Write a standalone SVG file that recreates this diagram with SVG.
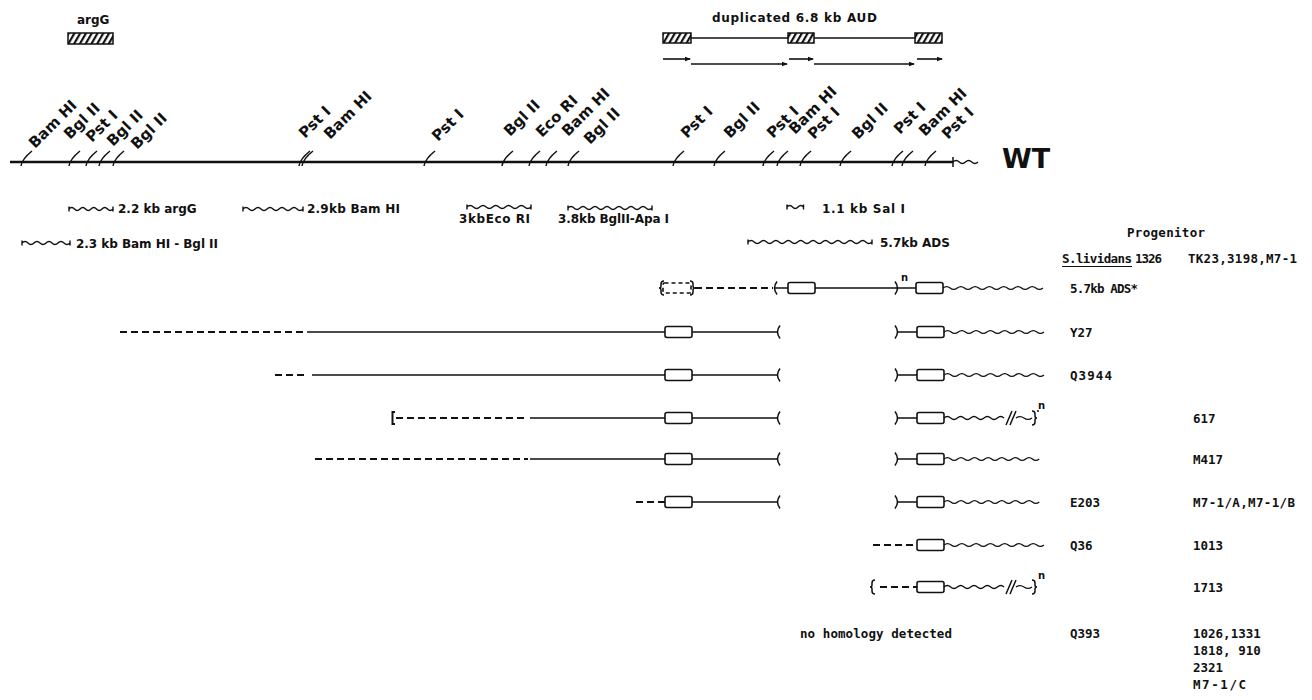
<svg xmlns="http://www.w3.org/2000/svg" width="1312" height="700" viewBox="0 0 1312 700">
<style>
  .site{font-family:"DejaVu Sans",sans-serif;font-weight:bold;font-size:15px;fill:#111}
  .lbl{font-family:"DejaVu Sans",sans-serif;font-weight:bold;font-size:12px;fill:#111}
  .mono{font-family:"DejaVu Sans Mono",monospace;font-weight:bold;font-size:12.5px;fill:#111}
  .sup{font-family:"DejaVu Sans",sans-serif;font-weight:bold;font-size:10px;fill:#111}
  .ln{fill:none;stroke:#111;stroke-width:1.6}
  .map{fill:none;stroke:#111;stroke-width:2.4}
  .dash{fill:none;stroke:#111;stroke-width:2;stroke-dasharray:7 4}
  .wave{fill:none;stroke:#111;stroke-width:1.4}
  .tick{fill:none;stroke:#111;stroke-width:1.5}
  .gene{fill:#fff;stroke:#111;stroke-width:1.6}
  .hatch{fill:url(#hatch);stroke:#111;stroke-width:1.5}
</style>
<defs>
  <pattern id="hatch" width="5" height="5" patternUnits="userSpaceOnUse" patternTransform="rotate(30)">
    <rect width="2.2" height="5" fill="#111"/>
  </pattern>
  <marker id="arr" markerWidth="6" markerHeight="6" refX="5" refY="3" orient="auto" markerUnits="userSpaceOnUse">
    <path d="M0,0.8 L6,3 L0,5.2 z" fill="#111"/>
  </marker>
  <!-- restriction site tick on the map line -->
  <path id="cut" class="tick" d="M0,4 Q1,-3 11,-11"/>
  <!-- gene box, parentheses for deletion end points -->
  <rect id="gene" class="gene" x="0" y="-5.5" width="27" height="11" rx="2"/>
  <path id="lp" class="tick" d="M3,-6.5 Q-2,0 3,6.5"/>
  <path id="rp" class="tick" d="M-3,-6.5 Q2,0 -3,6.5"/>
  <path id="rbrace" class="tick" d="M-2,-7 q3,0 3,3 v2 q0,2 2,2 q-2,0 -2,2 v2 q0,3 -3,3"/>
  <path id="lbrace" class="tick" d="M2,-7 q-3,0 -3,3 v2 q0,2 -2,2 q2,0 2,2 v2 q0,3 3,3"/>
  <path id="brk" class="tick" d="M-5,7 L1,-7 M-1,7 L5,-7"/>
  <!-- sequence tails: gentle waves, 100 px and 95 px long -->
  <path id="tail100" class="wave" d="M0,0 q3.57,-2.8 7.14,0 t7.14,0 t7.14,0 t7.14,0 t7.14,0 t7.14,0 t7.14,0 t7.14,0 t7.14,0 t7.14,0 t7.14,0 t7.14,0 t7.14,0 t7.14,0"/>
  <path id="tail95" class="wave" d="M0,0 q3.4,-2.8 6.8,0 t6.8,0 t6.8,0 t6.8,0 t6.8,0 t6.8,0 t6.8,0 t6.8,0 t6.8,0 t6.8,0 t6.8,0 t6.8,0 t6.8,0 t6.8,0"/>
  <path id="tailcut" class="wave" d="M0,0 q3.33,-2.8 6.67,0 t6.67,0 t6.67,0 t6.67,0 t6.67,0 t6.67,0 t6.67,0 t6.67,0 t6.67,0 M72,0 q4,-2.8 8,0 t8,0"/>
</defs>

<!-- argG gene -->
<g id="argG">
  <text class="lbl" x="77" y="24">argG</text>
  <rect class="hatch" x="68" y="33" width="45" height="11"/>
</g>

<!-- duplicated AUD -->
<g id="aud">
  <text class="lbl" x="712" y="22" textLength="165" font-size="11.5" style="font-weight:600">duplicated 6.8 kb AUD</text>
  <path class="ln" d="M691,38 H788 M814,38 H915"/>
  <rect class="hatch" x="663" y="33" width="28" height="10"/>
  <rect class="hatch" x="788" y="33" width="26" height="10"/>
  <rect class="hatch" x="915" y="33" width="27" height="10"/>
  <g class="ln" marker-end="url(#arr)">
    <path d="M663,59 H690"/>
    <path d="M691,64 H787"/>
    <path d="M789,59 H813"/>
    <path d="M814,64 H914"/>
    <path d="M917,59 H942"/>
  </g>
</g>

<!-- wild type restriction map -->
<g id="map-wt">
  <path class="map" d="M10,162 H953"/>
  <path class="wave" d="M953,162 q3.125,-3 6.25,0 t6.25,0 t6.25,0 t6.25,0"/>
  <path class="tick" d="M953,157 v10"/>
  <use href="#cut" x="21" y="162"/>
  <use href="#cut" x="69" y="162"/>
  <use href="#cut" x="86" y="162"/>
  <use href="#cut" x="99" y="162"/>
  <use href="#cut" x="113" y="162"/>
  <use href="#cut" x="299" y="162"/>
  <use href="#cut" x="302" y="162"/>
  <use href="#cut" x="424" y="162"/>
  <use href="#cut" x="502" y="162"/>
  <use href="#cut" x="529" y="162"/>
  <use href="#cut" x="546" y="162"/>
  <use href="#cut" x="568" y="162"/>
  <use href="#cut" x="673" y="162"/>
  <use href="#cut" x="714" y="162"/>
  <use href="#cut" x="763" y="162"/>
  <use href="#cut" x="777" y="162"/>
  <use href="#cut" x="800" y="162"/>
  <use href="#cut" x="840" y="162"/>
  <use href="#cut" x="892" y="162"/>
  <use href="#cut" x="902" y="162"/>
  <use href="#cut" x="925" y="162"/>
  <g class="site">
    <text transform="translate(35,149) rotate(-45)">Bam HI</text>
    <text transform="translate(70,140) rotate(-45)">Bgl II</text>
    <text transform="translate(92,143) rotate(-45)">Pst I</text>
    <text transform="translate(113,147) rotate(-45)">Bgl II</text>
    <text transform="translate(137,150) rotate(-45)">Bgl II</text>
    <text transform="translate(305,139) rotate(-45)">Pst I</text>
    <text transform="translate(330,140) rotate(-45)">Bam HI</text>
    <text transform="translate(438,142) rotate(-45)">Pst I</text>
    <text transform="translate(510,137) rotate(-45)">Bgl II</text>
    <text transform="translate(542,138) rotate(-45)">Eco RI</text>
    <text transform="translate(568,137) rotate(-45)">Bam HI</text>
    <text transform="translate(590,145) rotate(-45)">Bgl II</text>
    <text transform="translate(687,139) rotate(-45)">Pst I</text>
    <text transform="translate(730,139) rotate(-45)">Bgl II</text>
    <text transform="translate(773,139) rotate(-45)">Pst I</text>
    <text transform="translate(795,135) rotate(-45)">Bam HI</text>
    <text transform="translate(814,140) rotate(-45)">Pst I</text>
    <text transform="translate(858,140) rotate(-45)">Bgl II</text>
    <text transform="translate(900,135) rotate(-45)">Pst I</text>
    <text transform="translate(925,137) rotate(-45)">Bam HI</text>
    <text transform="translate(948,140) rotate(-45)">Pst I</text>
  </g>
  <text x="1002" y="168" style="font-family:'DejaVu Sans',sans-serif;font-weight:bold;font-size:27px;fill:#111">WT</text>
</g>

<!-- hybridisation probes -->
<g id="probes">
  <path class="wave" d="M69,209 q2.75,-3 5.5,0 t5.5,0 t5.5,0 t5.5,0 t5.5,0 t5.5,0 t5.5,0 t5.5,0 M69,206.5 v5 M113,206.5 v5"/>
  <text class="lbl" x="118" y="213">2.2 kb argG</text>
  <path class="wave" d="M243,209 q3,-3 6,0 t6,0 t6,0 t6,0 t6,0 t6,0 t6,0 t6,0 t6,0 t6,0 M243,206.5 v5 M303,206.5 v5"/>
  <text class="lbl" x="307" y="213" textLength="93">2.9kb  Bam HI</text>
  <path class="wave" d="M22,243 q3,-3 6,0 t6,0 t6,0 t6,0 t6,0 t6,0 t6,0 t6,0 M22,240.5 v5 M70,240.5 v5"/>
  <text class="lbl" x="76" y="248" textLength="142">2.3 kb  Bam HI - Bgl II</text>
  <path class="wave" d="M467,207 q3.2,-3 6.4,0 t6.4,0 t6.4,0 t6.4,0 t6.4,0 t6.4,0 t6.4,0 t6.4,0 t6.4,0 t6.4,0 M467,204.5 v5 M531,204.5 v5"/>
  <text class="lbl" x="459" y="223" textLength="71">3kbEco RI</text>
  <path class="wave" d="M568,208 q3,-3 6,0 t6,0 t6,0 t6,0 t6,0 t6,0 t6,0 t6,0 t6,0 t6,0 t6,0 t6,0 t6,0 t6,0 M568,205.5 v5 M652,205.5 v5"/>
  <text class="lbl" x="558" y="223" textLength="111">3.8kb BglII-Apa I</text>
  <path class="wave" d="M787,207 q2.75,-3 5.5,0 t5.5,0 t5.5,0 M787,204.5 v5 M803.5,204.5 v5"/>
  <text class="lbl" x="822" y="213" textLength="83">1.1 kb  Sal I</text>
  <path class="wave" d="M748,242 q3.1,-3 6.2,0 t6.2,0 t6.2,0 t6.2,0 t6.2,0 t6.2,0 t6.2,0 t6.2,0 t6.2,0 t6.2,0 t6.2,0 t6.2,0 t6.2,0 t6.2,0 t6.2,0 t6.2,0 t6.2,0 t6.2,0 t6.2,0 t6.2,0 M748,239.5 v5 M872,239.5 v5"/>
  <text class="lbl" x="880" y="247" textLength="70">5.7kb ADS</text>
</g>

<!-- column headings -->
<g id="headings" class="mono">
  <text x="1127" y="237" textLength="78">Progenitor</text>
  <text x="1062" y="263" textLength="70">S.lividans</text>
  <path class="ln" d="M1062,266.5 H1132" style="stroke-width:1.2"/>
  <text x="1135" y="263" textLength="27">1326</text>
  <text x="1188" y="263" textLength="109">TK23,3198,M7-1</text>
</g>

<!-- 5.7kb ADS* -->
<g id="row-ads">
  <rect x="663" y="283" width="28" height="10" rx="1.5" fill="none" stroke="#111" stroke-width="1.6" stroke-dasharray="4 3"/>
  <use href="#lbrace" x="662" y="288"/>
  <use href="#rbrace" x="692" y="288"/>
  <path class="dash" d="M695,288 H773"/>
  <use href="#lp" x="774" y="288"/>
  <path class="ln" d="M774.5,288 H788 M815,288 H897.5 M897.5,288 H916"/>
  <use href="#gene" x="788" y="288"/>
  <use href="#rp" x="898" y="288"/>
  <text class="sup" x="901" y="281">n</text>
  <use href="#gene" x="916" y="288"/>
  <use href="#tail100" x="943" y="288"/>
  <text class="mono" x="1070" y="293" textLength="68">5.7kb ADS*</text>
</g>

<!-- Y27 -->
<g id="row-y27">
  <path class="dash" d="M120,332 H303"/>
  <path class="ln" d="M307,332 H665 M692,332 H777.5 M897.5,332 H917"/>
  <use href="#gene" x="665" y="332"/>
  <use href="#lp" x="777" y="332"/>
  <use href="#rp" x="898" y="332"/>
  <use href="#gene" x="917" y="332"/>
  <use href="#tail100" x="944" y="332"/>
  <text class="mono" x="1070" y="337">Y27</text>
</g>

<!-- Q3944 -->
<g id="row-q3944">
  <path class="dash" d="M275,375 H307"/>
  <path class="ln" d="M312,375 H665 M692,375 H777.5 M897.5,375 H917"/>
  <use href="#gene" x="665" y="375"/>
  <use href="#lp" x="777" y="375"/>
  <use href="#rp" x="898" y="375"/>
  <use href="#gene" x="917" y="375"/>
  <use href="#tail100" x="944" y="375"/>
  <text class="mono" x="1070" y="380" textLength="42">Q3944</text>
</g>

<!-- 617 -->
<g id="row-617">
  <path class="tick" d="M395,412 H392.5 V424 H395" style="stroke-width:2"/>
  <path class="dash" d="M396,418 H528"/>
  <path class="ln" d="M530,418 H665 M692,418 H777.5 M897.5,418 H917"/>
  <use href="#gene" x="665" y="418"/>
  <use href="#lp" x="777" y="418"/>
  <use href="#rp" x="898" y="418"/>
  <use href="#gene" x="917" y="418"/>
  <use href="#tailcut" x="944" y="418"/>
  <use href="#brk" x="1011" y="418"/>
  <use href="#rbrace" x="1034" y="418"/>
  <circle cx="1038" cy="411" r="1" fill="#111"/>
  <text class="sup" x="1038" y="409">n</text>
  <text class="mono" x="1193" y="423">617</text>
</g>

<!-- M417 -->
<g id="row-m417">
  <path class="dash" d="M315,459 H528"/>
  <path class="ln" d="M530,459 H665 M692,459 H777.5 M897.5,459 H917"/>
  <use href="#gene" x="665" y="459"/>
  <use href="#lp" x="777" y="459"/>
  <use href="#rp" x="898" y="459"/>
  <use href="#gene" x="917" y="459"/>
  <use href="#tail95" x="944" y="459"/>
  <text class="mono" x="1193" y="464">M417</text>
</g>

<!-- E203 -->
<g id="row-e203">
  <path class="dash" d="M636,502 H665"/>
  <path class="ln" d="M692,502 H777.5 M897.5,502 H917"/>
  <use href="#gene" x="665" y="502"/>
  <use href="#lp" x="777" y="502"/>
  <use href="#rp" x="898" y="502"/>
  <use href="#gene" x="917" y="502"/>
  <use href="#tail95" x="944" y="502"/>
  <text class="mono" x="1070" y="507">E203</text>
  <text class="mono" x="1193" y="507" textLength="102">M7-1/A,M7-1/B</text>
</g>

<!-- Q36 -->
<g id="row-q36">
  <path class="dash" d="M873,545 H917"/>
  <use href="#gene" x="917" y="545"/>
  <use href="#tail100" x="944" y="545"/>
  <text class="mono" x="1070" y="550">Q36</text>
  <text class="mono" x="1193" y="550">1013</text>
</g>

<!-- 1713 -->
<g id="row-1713">
  <use href="#lbrace" x="873" y="587"/>
  <path class="dash" d="M880,587 H917"/>
  <use href="#gene" x="917" y="587"/>
  <use href="#tailcut" x="944" y="587"/>
  <use href="#brk" x="1011" y="587"/>
  <use href="#rbrace" x="1034" y="587"/>
  <text class="sup" x="1038" y="579">n</text>
  <text class="mono" x="1193" y="592">1713</text>
</g>

<!-- Q393 -->
<g id="row-q393" class="mono">
  <text x="800" y="638" textLength="152">no homology detected</text>
  <text x="1070" y="638">Q393</text>
  <text x="1193" y="638">1026,1331</text>
  <text x="1193" y="655">1818, 910</text>
  <text x="1193" y="672">2321</text>
  <text x="1193" y="689" textLength="53">M7-1/C</text>
</g>
</svg>
